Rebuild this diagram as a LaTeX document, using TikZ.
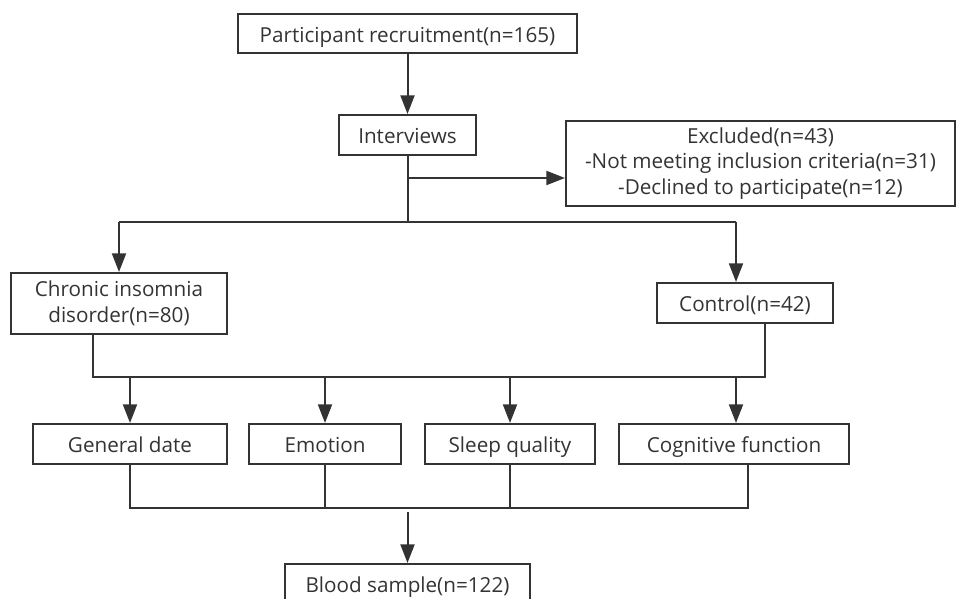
\documentclass[tikz,border=0pt]{standalone}
\usepackage{fontspec}
\setmainfont{Open Sans}
\usetikzlibrary{arrows.meta}
\definecolor{ln}{HTML}{333333}
\definecolor{tx}{HTML}{333333}
\begin{document}
\begin{tikzpicture}[x=0.75pt,y=-0.75pt,
 box/.style={draw=ln,line width=1.5pt,text=tx,inner sep=0pt,align=center,
   font=\fontsize{15.5}{19.3}\selectfont,minimum height=30pt},
 onebox/.style={box,text height=15pt,text depth=2pt},
 conn/.style={draw=ln,line width=1.5pt},
 arr/.style={conn,-{Triangle[length=14pt,width=10.5pt]}}]
\useasboundingbox (0,0) rectangle (956,599);
\clip (0,0) rectangle (956,599);
% nodes
\node[onebox,minimum width=254.25pt,minimum height=29.25pt] (P) at (407.5,33.5) {Participant recruitment(n=165)};
\node[onebox,minimum width=102.75pt] (I) at (407.5,135) {Interviews};
\node[box,minimum width=291.75pt,minimum height=63.75pt] (E) at (760.5,163.5) {Excluded(n=43)\\-Not meeting inclusion criteria(n=31)\\-Declined to participate(n=12)};
\node[box,minimum width=162pt,minimum height=45.75pt] (C) at (119,303.5) {Chronic insomnia\\disorder(n=80)};
\node[onebox,minimum width=132pt] (K) at (745,303) {Control(n=42)};
\node[onebox,minimum width=145.5pt] (G) at (130,444) {General date};
\node[onebox,minimum width=114pt] (Em) at (325,444) {Emotion};
\node[onebox,minimum width=127.5pt] (S) at (510,444) {Sleep quality};
\node[onebox,minimum width=172.5pt] (Cg) at (734,444) {Cognitive function};
\node[onebox,minimum width=183.75pt] (B) at (407.5,584) {Blood sample(n=122)};
% junction coordinates
\coordinate (j1) at (407.5,178);
\coordinate (j2) at (407.5,222);
\coordinate (jl) at (119,222);
\coordinate (jr) at (736,222);
\coordinate (c1) at (93,377);
\coordinate (k1) at (765,377);
\coordinate (d1) at (748,508);
\coordinate (g1) at (130,508);
\coordinate (b0) at (407.5,512);
% connectors
\draw[arr] (P) -- (I);
\draw[conn] (I.south) -- (j2);
\draw[arr] (j1) -- (E.west |- j1);
\draw[conn] (jl) -- (jr);
\draw[arr] (jl) -- (C.north);
\draw[arr] (jr) -- (K.north -| jr);
\draw[conn] (C.south -| c1) -- (c1) -- (k1) -- (K.south -| k1);
\draw[arr] (G.north |- c1) -- (G.north);
\draw[arr] (Em.north |- c1) -- (Em.north);
\draw[arr] (S.north |- c1) -- (S.north);
\draw[arr] (Cg.north -| jr) ++(0,-47) -- (Cg.north -| jr);
\draw[conn] (G.south) -- (g1) -- (d1) -- (Cg.south -| d1);
\draw[conn] (Em.south) -- (Em.south |- g1);
\draw[conn] (S.south) -- (S.south |- g1);
\draw[arr] (b0) -- (B.north);
\end{tikzpicture}
\end{document}
